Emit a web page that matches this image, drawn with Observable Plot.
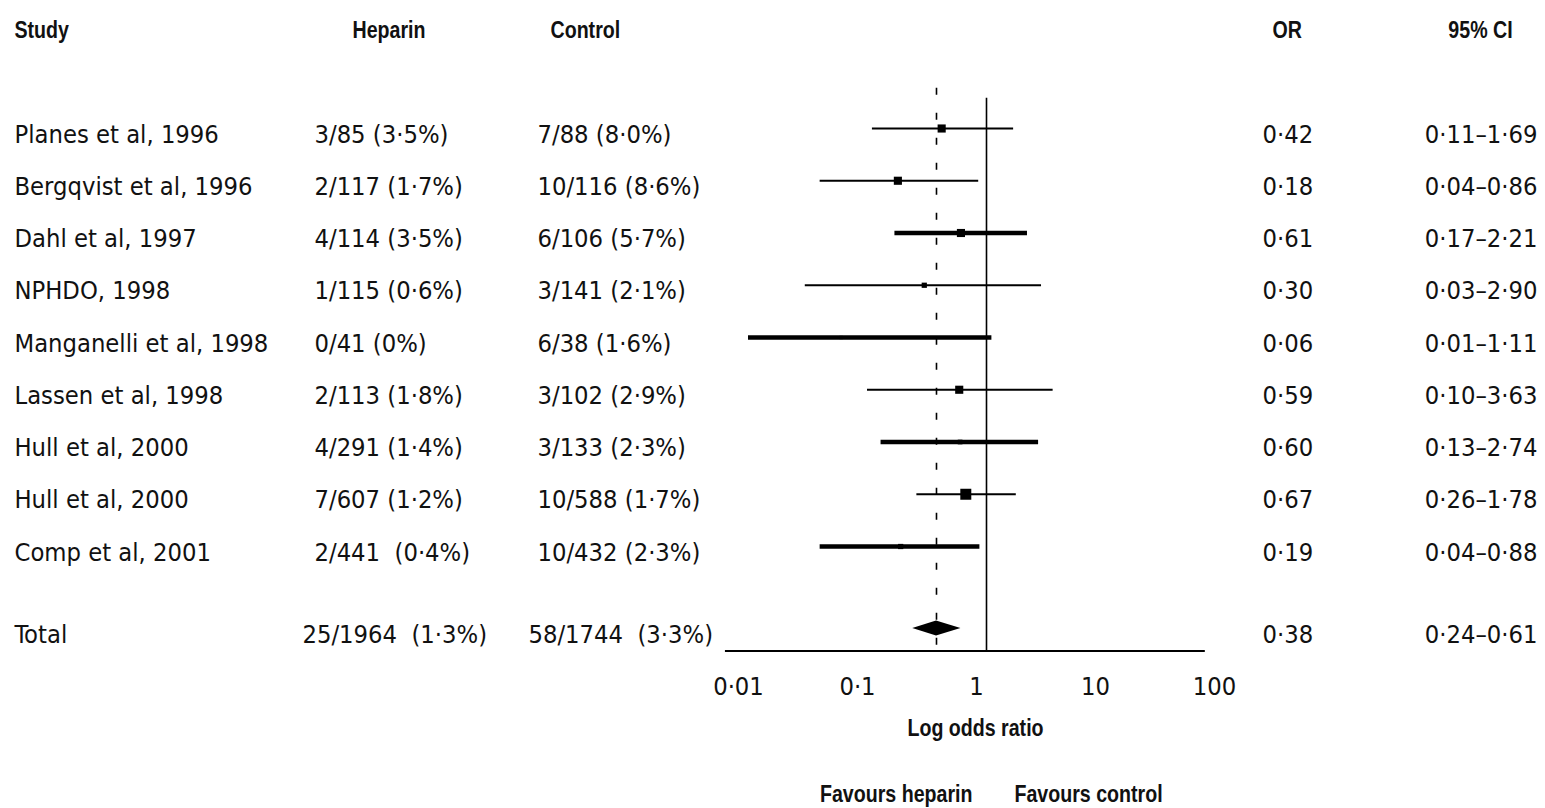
<!DOCTYPE html>
<html><head><meta charset="utf-8">
<script src="https://cdn.jsdelivr.net/npm/d3@7"></script>
<script src="https://cdn.jsdelivr.net/npm/@observablehq/plot@0.6"></script>
<style>
html,body{margin:0;padding:0;background:#fff;}
#chart svg text{white-space:pre;}
</style></head><body><div id="chart"></div>
<script>
// ---- data ----
const headers = ["Study", "Heparin", "Control", "OR", "95% CI"];
const studies = ["Planes et al, 1996", "Bergqvist et al, 1996", "Dahl et al, 1997", "NPHDO, 1998",
  "Manganelli et al, 1998", "Lassen et al, 1998", "Hull et al, 2000", "Hull et al, 2000", "Comp et al, 2001"];
const heparinEvents = ["3/85 (3·5%)", "2/117 (1·7%)", "4/114 (3·5%)", "1/115 (0·6%)", "0/41 (0%)",
  "2/113 (1·8%)", "4/291 (1·4%)", "7/607 (1·2%)", "2/441  (0·4%)"];
const controlEvents = ["7/88 (8·0%)", "10/116 (8·6%)", "6/106 (5·7%)", "3/141 (2·1%)", "6/38 (1·6%)",
  "3/102 (2·9%)", "3/133 (2·3%)", "10/588 (1·7%)", "10/432 (2·3%)"];
const oddsRatios = [0.42, 0.18, 0.61, 0.30, 0.06, 0.59, 0.60, 0.67, 0.19];
const ciLow = [0.11, 0.04, 0.17, 0.03, 0.01, 0.10, 0.13, 0.26, 0.04];
const ciHigh = [1.69, 0.86, 2.21, 2.90, 1.11, 3.63, 2.74, 1.78, 0.88];
const weights = [12, 12, 12, 5, 2, 12, 4, 22, 5]; // relative square areas as read
const totalLabel = "Total";
const totalHeparin = "25/1964  (1·3%)";
const totalControl = "58/1744  (3·3%)";
const totalOR = 0.38, totalLow = 0.24, totalHigh = 0.61;
const tickValues = [0.01, 0.1, 1, 10, 100];
const tickLabels = ["0·01", "0·1", "1", "10", "100"];
const axisTitle = "Log odds ratio";
const favours = ["Favours heparin", "Favours control"];

// ---- derived table ----
const fmt = v => v.toFixed(2).replace(".", "·");
const rows = studies.map((s, i) => ({
  i, study: s, heparin: heparinEvents[i], control: controlEvents[i],
  or: oddsRatios[i], lo: ciLow[i], hi: ciHigh[i], w: weights[i],
  orText: fmt(oddsRatios[i]), ciText: `${fmt(ciLow[i])}–${fmt(ciHigh[i])}`
}));
const totalRowIdx = 9.57, headerRowIdx = -2, axisRowIdx = 10;
const totalRow = [{i: totalRowIdx, study: totalLabel, heparin: totalHeparin, control: totalControl,
  orText: fmt(totalOR), ciText: `${fmt(totalLow)}–${fmt(totalHigh)}`}];
const dh = 0.145;
const diamond = [
  {x: totalLow, y1: totalRowIdx, y2: totalRowIdx},
  {x: totalOR, y1: totalRowIdx - dh, y2: totalRowIdx + dh},
  {x: totalHigh, y1: totalRowIdx, y2: totalRowIdx}
];
const thickRows = new Set([2, 4, 6, 8]);

// ---- styles ----
const BODY = "'DejaVu Sans Condensed','DejaVu Sans',sans-serif";
const BOLD = "'Liberation Sans','Arial',sans-serif";
const body = {fontFamily: BODY, fontSize: 25.3, fill: "#111", lineAnchor: "middle", dy: 6};
const bold = {fontFamily: BOLD, fontSize: 24.5, fontWeight: "bold", fill: "#111", lineAnchor: "middle", dy: 6, ariaLabel: () => "bold-text"};

const columns = [
  {field: "study", dx: 14, anchor: "start", hdx: 14, hanchor: "start", tdx: 14},
  {field: "heparin", dx: 314, anchor: "start", hdx: 352, hanchor: "start", tdx: 302},
  {field: "control", dx: 537, anchor: "start", hdx: 550, hanchor: "start", tdx: 528},
  {field: "orText", dx: 1262, anchor: "start", hdx: 1272, hanchor: "start", tdx: 1262},
  {field: "ciText", dx: 1537, anchor: "end", hdx: 1480, hanchor: "middle", tdx: 1537}
];

const marks = [];
// reference lines
marks.push(Plot.ruleX([1], {y1: -0.58, y2: axisRowIdx, stroke: "#000", strokeWidth: 1.6}));
marks.push(Plot.ruleX([totalOR], {y1: -0.77, y2: axisRowIdx, stroke: "#000", strokeWidth: 1.6, strokeDasharray: "7,18"}));
// axis line
marks.push(Plot.ruleY([axisRowIdx], {x1: 0.0064, x2: 69, stroke: "#000", strokeWidth: 1.8}));
// confidence intervals
marks.push(Plot.ruleY(rows, {y: "i", x1: "lo", x2: "hi", stroke: "#000",
  strokeWidth: d => thickRows.has(d.i) ? 4.6 : 2}));
// squares
marks.push(Plot.dot(rows, {x: "or", y: "i", r: "w", symbol: "square", fill: "#000", stroke: "none"}));
// diamond
marks.push(Plot.areaY(diamond, {x: "x", y1: "y1", y2: "y2", fill: "#000"}));
// table text
columns.forEach((c, k) => {
  marks.push(Plot.text([headers[k]], {y: () => headerRowIdx, text: d => d, frameAnchor: "left",
    ...bold, dx: c.hdx, textAnchor: c.hanchor}));
  marks.push(Plot.text(rows, {y: "i", text: c.field, frameAnchor: "left", ...body, dx: c.dx, textAnchor: c.anchor}));
  marks.push(Plot.text(totalRow, {y: "i", text: c.field, frameAnchor: "left", ...body, dx: c.tdx, textAnchor: c.anchor}));
});
// axis tick labels
marks.push(Plot.text(tickValues, {x: d => d, y: () => axisRowIdx, text: (d, i) => tickLabels[i],
  ...body, dy: 36, dx: -10}));
marks.push(Plot.text([axisTitle], {x: () => 1, y: () => axisRowIdx, text: d => d, ...bold, dy: 77, dx: -11}));
marks.push(Plot.text([favours[0]], {x: () => 1, y: () => axisRowIdx, text: d => d, ...bold, dy: 143, dx: -14, textAnchor: "end"}));
marks.push(Plot.text([favours[1]], {x: () => 1, y: () => axisRowIdx, text: d => d, ...bold, dy: 143, dx: 28, textAnchor: "start"}));

const chart = Plot.plot({
  width: 1545, height: 808,
  marginLeft: 0, marginRight: 0, marginTop: 0, marginBottom: 0,
  style: {background: "#fff", overflow: "visible"},
  x: {type: "log", domain: [0.01, 100], range: [748, 1224], axis: null},
  y: {domain: [0, 8], range: [128, 546], axis: null},
  r: {type: "sqrt", domain: [0, 22], range: [0, 6.2]},
  marks
});
document.getElementById("chart").appendChild(chart);
// condensed look for the bold labels
chart.querySelectorAll('text[aria-label="bold-text"], g[aria-label="bold-text"] text').forEach(t => {
  const L = t.getComputedTextLength();
  if (L > 0) {
    t.setAttribute("textLength", (L * 0.8).toFixed(1));
    t.setAttribute("lengthAdjust", "spacingAndGlyphs");
  }
});
</script></body></html>
